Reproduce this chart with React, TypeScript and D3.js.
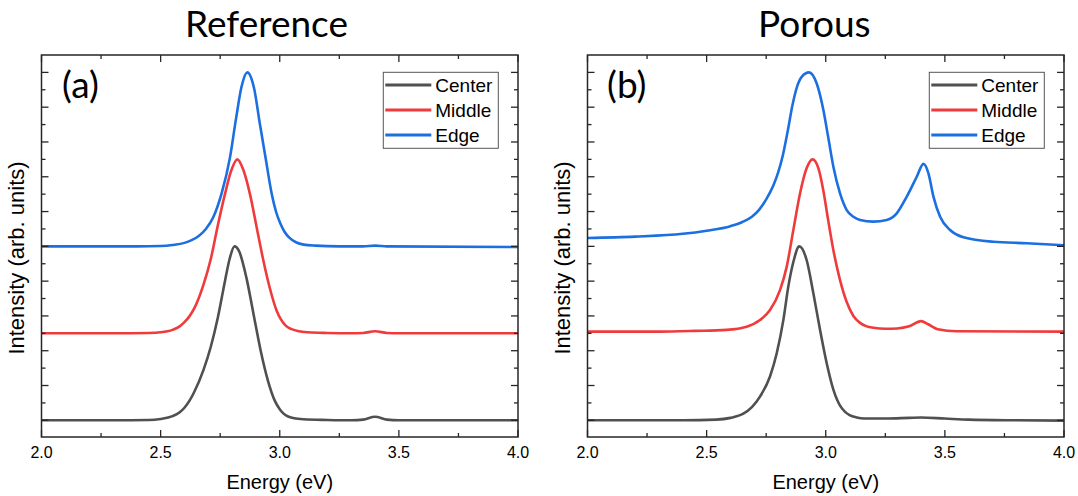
import React from 'react';
import * as d3 from 'd3';

// ---------- axis ticks ----------
const energyTicks = [2.0, 2.5, 3.0, 3.5, 4.0];
const energyMinorTicks = [2.25, 2.75, 3.25, 3.75];
const intensityTicks = [0, 1, 2, 3, 4, 5, 6, 7, 8, 9, 10];
const intensityMinorTicks = [0.5, 1.5, 2.5, 3.5, 4.5, 5.5, 6.5, 7.5, 8.5, 9.5];

// ---------- series ----------
const seriesNames = ['Center', 'Middle', 'Edge'];
const seriesColors = ['#505050', '#ef3b3b', '#1c6fe0'];

// Reference (a)
const refCenterE = [2.0, 2.3, 2.45, 2.5, 2.55, 2.58, 2.6, 2.62, 2.64, 2.68, 2.71, 2.74, 2.77, 2.79, 2.81, 2.83, 2.86, 2.89, 2.92, 2.95, 2.98, 3.0, 3.015, 3.035, 3.06, 3.1, 3.2, 3.3, 3.35, 3.4, 3.45, 3.5, 4.0];
const refCenterI = [0, 0, 0.01, 0.04, 0.12, 0.23, 0.36, 0.55, 0.8, 1.45, 2.1, 2.95, 4.0, 4.65, 5.0, 4.85, 4.1, 3.05, 2.0, 1.15, 0.55, 0.32, 0.2, 0.11, 0.06, 0.03, 0.01, 0, 0.02, 0.1, 0.02, 0, 0];

const refMiddleE = [2.0, 2.3, 2.45, 2.5, 2.55, 2.58, 2.6, 2.62, 2.64, 2.68, 2.71, 2.74, 2.77, 2.795, 2.822, 2.847, 2.875, 2.903, 2.931, 2.959, 2.987, 3.005, 3.025, 3.05, 3.08, 3.12, 3.2, 3.3, 3.35, 3.4, 3.45, 3.5, 4.0];
const refMiddleI = [2.5, 2.5, 2.51, 2.53, 2.6, 2.7, 2.82, 2.98, 3.2, 3.9, 4.62, 5.6, 6.5, 7.15, 7.5, 7.2, 6.5, 5.55, 4.6, 3.78, 3.15, 2.9, 2.72, 2.62, 2.56, 2.53, 2.51, 2.5, 2.51, 2.56, 2.51, 2.5, 2.5];

const refEdgeE = [2.0, 2.4, 2.5, 2.55, 2.6, 2.63, 2.66, 2.69, 2.72, 2.756, 2.791, 2.816, 2.84, 2.864, 2.892, 2.917, 2.942, 2.966, 2.985, 3.003, 3.02, 3.04, 3.07, 3.1, 3.15, 3.25, 3.35, 3.4, 3.45, 4.0];
const refEdgeI = [5.0, 5.0, 5.01, 5.04, 5.1, 5.18, 5.3, 5.5, 5.82, 6.52, 7.55, 8.65, 9.6, 10.0, 9.55, 8.5, 7.48, 6.52, 5.98, 5.65, 5.42, 5.25, 5.11, 5.05, 5.02, 5.0, 5.0, 5.02, 5.0, 4.98];

// Porous (b)
const porCenterE = [2.0, 2.4, 2.54, 2.6, 2.654, 2.69, 2.724, 2.766, 2.794, 2.822, 2.843, 2.864, 2.889, 2.92, 2.948, 2.976, 3.004, 3.032, 3.06, 3.08, 3.1, 3.13, 3.16, 3.25, 3.35, 3.4, 3.5, 3.6, 3.8, 4.0];
const porCenterI = [0.0, 0.0, 0.02, 0.07, 0.19, 0.38, 0.68, 1.26, 1.92, 2.88, 3.85, 4.55, 5.0, 4.6, 3.65, 2.6, 1.64, 0.88, 0.42, 0.25, 0.15, 0.08, 0.05, 0.05, 0.07, 0.08, 0.05, 0.02, 0.0, -0.01];

const porMiddleE = [2.0, 2.3, 2.45, 2.584, 2.668, 2.724, 2.766, 2.808, 2.836, 2.864, 2.892, 2.92, 2.945, 2.969, 2.99, 3.01, 3.032, 3.06, 3.088, 3.116, 3.144, 3.172, 3.2, 3.25, 3.3, 3.35, 3.4, 3.43, 3.47, 3.55, 4.0];
const porMiddleI = [2.55, 2.55, 2.57, 2.6, 2.69, 2.88, 3.17, 3.74, 4.41, 5.47, 6.52, 7.25, 7.5, 7.25, 6.6, 5.76, 4.89, 4.03, 3.4, 3.0, 2.8, 2.7, 2.66, 2.63, 2.64, 2.7, 2.85, 2.76, 2.62, 2.56, 2.55];

const porEdgeE = [2.0, 2.2, 2.4, 2.5, 2.6, 2.65, 2.69, 2.72, 2.75, 2.78, 2.8, 2.82, 2.84, 2.86, 2.88, 2.9, 2.93, 2.962, 2.99, 3.01, 3.032, 3.06, 3.088, 3.116, 3.144, 3.2, 3.256, 3.298, 3.34, 3.382, 3.41, 3.431, 3.452, 3.48, 3.522, 3.578, 3.704, 3.844, 4.0];
const porEdgeI = [5.24, 5.28, 5.36, 5.45, 5.58, 5.7, 5.85, 6.05, 6.35, 6.75, 7.12, 7.62, 8.3, 9.05, 9.6, 9.88, 10.0, 9.68, 8.92, 8.15, 7.29, 6.52, 6.04, 5.85, 5.76, 5.71, 5.76, 5.95, 6.43, 7.0, 7.37, 7.1, 6.43, 5.85, 5.47, 5.26, 5.13, 5.09, 5.03];

const panelTitles = ['Reference', 'Porous'];
const panelTags = ['(a)', '(b)'];

type Pt = [number, number];
const zip = (e: number[], v: number[]): Pt[] => e.map((x, i) => [x, v[i]]);

const panelsData: Pt[][][] = [
  [zip(refCenterE, refCenterI), zip(refMiddleE, refMiddleI), zip(refEdgeE, refEdgeI)],
  [zip(porCenterE, porCenterI), zip(porMiddleE, porMiddleI), zip(porEdgeE, porEdgeI)],
];

const SANS = '"Liberation Sans", Arial, sans-serif';
const TITLE_FONT = 'Lato, "Open Sans", sans-serif';

const TOP = 55;
const BOTTOM = 437;

function Panel(props: {
  left: number; right: number; title: string; titleX: number; tag: string; tagX: number;
  legendX: number; ylabelX: number; series: Pt[][];
}) {
  const { left, right, title, titleX, tag, tagX, legendX, ylabelX, series } = props;
  const x = d3.scaleLinear().domain([2, 4]).range([left, right]);
  const y = d3.scaleLinear().domain([-0.48, 10.5]).range([BOTTOM, TOP]);
  const line = d3.line<Pt>().x(d => x(d[0])).y(d => y(d[1])).curve(d3.curveMonotoneX);
  const axisColor = '#262626';
  const major = 7;
  const minor = 4;
  const cx = (left + right) / 2;
  return (
    <g>
      <defs>
        <clipPath id={`clip-${left}`}>
          <rect x={left} y={TOP} width={right - left} height={BOTTOM - TOP} />
        </clipPath>
      </defs>
      <text x={titleX} y={37} fontFamily={TITLE_FONT} fontSize={37} fill="#000">{title}</text>
      <text x={tagX} y={98} fontFamily={TITLE_FONT} fontSize={37} fill="#000">{tag}</text>

      <g clipPath={`url(#clip-${left})`}>
        {series.map((s, i) => (
          <path key={i} d={line(s) || ''} fill="none" stroke={seriesColors[i]} strokeWidth={2.6} strokeLinejoin="round" />
        ))}
      </g>

      {energyTicks.map(t => (
        <g key={`xt${t}`}>
          <line x1={x(t)} x2={x(t)} y1={BOTTOM} y2={BOTTOM - major} stroke={axisColor} strokeWidth={1.3} />
          <line x1={x(t)} x2={x(t)} y1={TOP} y2={TOP + major} stroke={axisColor} strokeWidth={1.3} />
          <text x={x(t)} y={458} textAnchor="middle" fontFamily={SANS} fontSize={16} fill="#000">{t.toFixed(1)}</text>
        </g>
      ))}
      {energyMinorTicks.map(t => (
        <g key={`xm${t}`}>
          <line x1={x(t)} x2={x(t)} y1={BOTTOM} y2={BOTTOM - minor} stroke={axisColor} strokeWidth={1.3} />
          <line x1={x(t)} x2={x(t)} y1={TOP} y2={TOP + minor} stroke={axisColor} strokeWidth={1.3} />
        </g>
      ))}
      {intensityTicks.map(t => (
        <g key={`yt${t}`}>
          <line x1={left} x2={left + major} y1={y(t)} y2={y(t)} stroke={axisColor} strokeWidth={1.3} />
          <line x1={right} x2={right - major} y1={y(t)} y2={y(t)} stroke={axisColor} strokeWidth={1.3} />
        </g>
      ))}
      {intensityMinorTicks.map(t => (
        <g key={`ym${t}`}>
          <line x1={left} x2={left + minor} y1={y(t)} y2={y(t)} stroke={axisColor} strokeWidth={1.3} />
          <line x1={right} x2={right - minor} y1={y(t)} y2={y(t)} stroke={axisColor} strokeWidth={1.3} />
        </g>
      ))}
      <rect x={left} y={TOP} width={right - left} height={BOTTOM - TOP} fill="none" stroke={axisColor} strokeWidth={1.5} />

      <text x={cx} y={489} textAnchor="middle" fontFamily={SANS} fontSize={20} fill="#000">Energy (eV)</text>
      <text transform={`translate(${ylabelX},258) rotate(-90)`} textAnchor="middle" fontFamily={SANS} fontSize={22} fill="#000">Intensity (arb. units)</text>

      <g>
        <rect x={legendX} y={72.3} width={115} height={76} fill="#fff" stroke="#555" strokeWidth={1} />
        {seriesNames.map((n, i) => {
          const ry = 85 + i * 25;
          return (
            <g key={n}>
              <line x1={legendX + 2} x2={legendX + 48} y1={ry} y2={ry} stroke={seriesColors[i]} strokeWidth={3} />
              <text x={legendX + 52} y={ry + 7} fontFamily={SANS} fontSize={19} fill="#000">{n}</text>
            </g>
          );
        })}
      </g>
    </g>
  );
}

export default function App() {
  return (
    <svg width={1078} height={496} style={{ position: 'absolute', left: 0, top: 0, background: '#fff' }}>
      <rect x={0} y={0} width={1078} height={496} fill="#fff" />
      <Panel left={41.5} right={518} title={panelTitles[0]} titleX={185} tag={panelTags[0]} tagX={62}
        legendX={383.3} ylabelX={24} series={panelsData[0]} />
      <Panel left={587.5} right={1064} title={panelTitles[1]} titleX={758} tag={panelTags[1]} tagX={607}
        legendX={929.3} ylabelX={570} series={panelsData[1]} />
    </svg>
  );
}
